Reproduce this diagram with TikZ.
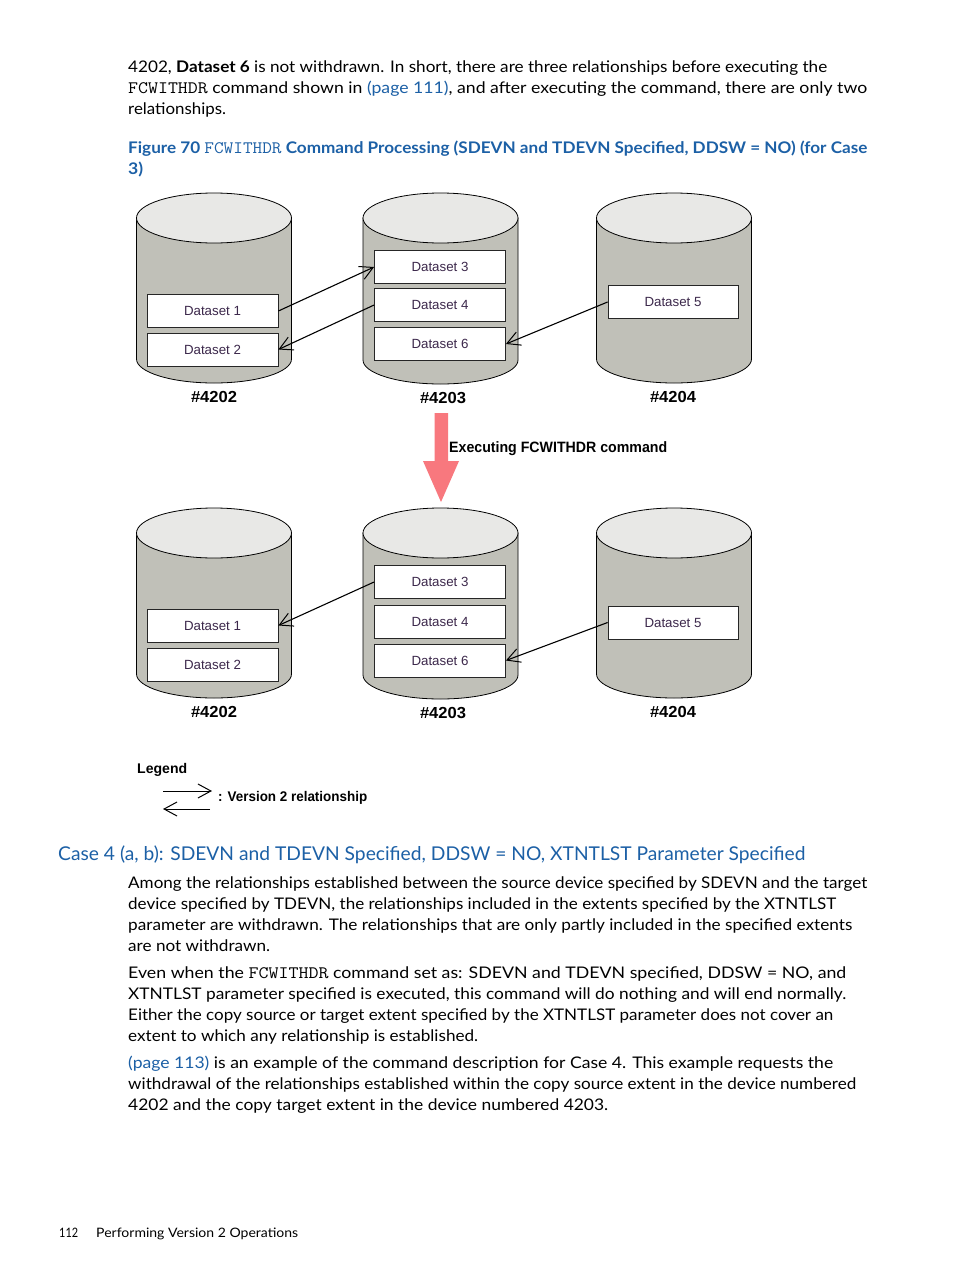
\documentclass[tikz,border=0pt]{standalone}
\usepackage{fontspec}
\usepackage{graphicx}
\setmainfont{Lato}
\newfontfamily\arialf{Liberation Sans}
\usetikzlibrary{arrows.meta}
\definecolor{hpblue}{RGB}{28,96,166}
\definecolor{dstext}{RGB}{60,40,75}
\definecolor{cylbodyc}{RGB}{192,192,184}
\definecolor{cyltopc}{RGB}{232,232,230}
\definecolor{redarrow}{RGB}{248,120,126}
\newcommand\monof{\ttfamily\mdseries}
\tikzset{
  bodytext/.style={anchor=base west,inner sep=0pt,font=\fontsize{16}{19}\selectfont},
  captext/.style={anchor=base west,inner sep=0pt,text=hpblue,font=\fontsize{16}{19}\selectfont\bfseries},
  headtext/.style={anchor=base west,inner sep=0pt,text=hpblue,font=\fontsize{19}{22}\selectfont},
  foottext/.style={anchor=base west,inner sep=0pt,font=\fontsize{13}{15}\selectfont},
  dsbox/.style={draw=black!85,line width=0.8pt,fill=white,minimum width=131pt,minimum height=33pt,inner sep=0pt,text=dstext,font=\arialf\fontsize{13.3}{15}\selectfont},
  devlabel/.style={inner sep=0pt,font=\arialf\bfseries\fontsize{16}{18}\selectfont},
  cylbody/.style={fill=cylbodyc,draw=black,line width=0.8pt},
  cyltop/.style={fill=cyltopc,draw=black,line width=0.8pt},
  rel/.style={line width=1.1pt,-{Straight Barb[length=13pt,width=14pt,line width=1pt]}},
}
\newcommand\mycyl[3]{%
  \filldraw[cylbody] (#1-77.5,#2+25) -- (#1-77.5,#3-24)
     arc[start angle=180,end angle=0,x radius=77.5,y radius=24] -- (#1+77.5,#2+25) -- cycle;
  \filldraw[cyltop] (#1,#2+25) ellipse[x radius=77.5,y radius=25];
}
\newcommand\fitw[2]{\resizebox{#1pt}{\height}{#2}}
\begin{document}
\begin{tikzpicture}[x=1pt,y=-1pt]
\useasboundingbox (0,0) rectangle (954,1271);
\fill[white] (0,0) rectangle (954,1271);

% ---- top paragraph ----
\node[bodytext] (t1) at (128,72.5) {\fitw{699}{4202, \textbf{Dataset 6} is not withdrawn. In short, there are three relationships before executing the}};
\node[bodytext] (t2) at (128,93.5) {\fitw{739}{{\monof\fontsize{17.5}{19}\selectfont FCWITHDR} command shown in {\color{hpblue}(page 111)}, and after executing the command, there are only two}};
\node[bodytext] (t3) at (128,114.5) {\fitw{98}{relationships.}};

% ---- caption ----
\node[captext] (c1) at (128,153.5) {\fitw{739}{Figure 70 {\monof\fontsize{17.5}{19}\selectfont FCWITHDR} Command Processing (SDEVN and TDEVN Specified, DDSW = NO) (for Case}};
\node[captext] (c2) at (128,174.5) {\fitw{15}{3)}};

% ---- top row cylinders ----
\mycyl{214}{193}{383}
\mycyl{440.5}{193}{384}
\mycyl{674}{193}{383}

\node[dsbox] (a1) at (212.5,311) {Dataset 1};
\node[dsbox] (a2) at (212.5,349.5) {Dataset 2};
\node[dsbox] (a3) at (440,267) {Dataset 3};
\node[dsbox] (a4) at (440,305) {Dataset 4};
\node[dsbox] (a6) at (440,344) {Dataset 6};
\node[dsbox,minimum width=130pt] (a5) at (673,302) {Dataset 5};

\draw[rel] (a1.east) -- (a3.west);
\draw[rel] (a4.west) -- (a2.east);
\draw[rel] (a5.west) -- (a6.east);

\node[devlabel] (l1) at (214,397) {\fitw{46}{\#4202}};
\node[devlabel] (l2) at (443,398) {\fitw{46}{\#4203}};
\node[devlabel] (l3) at (673,397) {\fitw{46}{\#4204}};

% ---- red arrow ----
\fill[redarrow] (434.5,413) -- (448,413) -- (448,461) -- (459,461) -- (441,502) -- (423,461) -- (434.5,461) -- cycle;
\node[anchor=west,inner sep=0pt,font=\arialf\bfseries\fontsize{15}{17}\selectfont] (ex) at (449,449) {\fitw{218}{Executing FCWITHDR command}};

% ---- bottom row cylinders ----
\mycyl{214}{508}{698}
\mycyl{440.5}{508}{699}
\mycyl{674}{508}{698}

\node[dsbox] (b1) at (212.5,625.5) {Dataset 1};
\node[dsbox] (b2) at (212.5,665) {Dataset 2};
\node[dsbox] (b3) at (440,582) {Dataset 3};
\node[dsbox] (b4) at (440,621.5) {Dataset 4};
\node[dsbox] (b6) at (440,660.5) {Dataset 6};
\node[dsbox,minimum width=130pt] (b5) at (673,622.5) {Dataset 5};

\draw[rel] (b3.west) -- (b1.east);
\draw[rel] (b5.west) -- (b6.east);

\node[devlabel] (m1) at (214,712) {\fitw{46}{\#4202}};
\node[devlabel] (m2) at (443,713) {\fitw{46}{\#4203}};
\node[devlabel] (m3) at (673,712) {\fitw{46}{\#4204}};

% ---- legend ----
\node[anchor=west,inner sep=0pt,font=\arialf\bfseries\fontsize{14}{16}\selectfont] (lg) at (137,770) {\fitw{50}{Legend}};
\coordinate (la) at (163,791);
\coordinate (lb) at (212,791);
\coordinate (lc) at (210,809);
\coordinate (ld) at (163,809);
\draw[rel,line width=1pt] (la) -- (lb);
\draw[rel,line width=1pt] (lc) -- (ld);
\node[anchor=west,inner sep=0pt,font=\arialf\bfseries\fontsize{14}{16}\selectfont] (lv) at (218,798) {\fitw{149}{: Version 2 relationship}};

% ---- heading ----
\node[headtext] (h) at (58,860) {\fitw{747}{Case 4 (a, b): SDEVN and TDEVN Specified, DDSW = NO, XTNTLST Parameter Specified}};

% ---- paragraphs ----
\node[bodytext] (p1) at (128,888) {\fitw{739}{Among the relationships established between the source device specified by SDEVN and the target}};
\node[bodytext] (p2) at (128,909) {\fitw{708}{device specified by TDEVN, the relationships included in the extents specified by the XTNTLST}};
\node[bodytext] (p3) at (128,930) {\fitw{724}{parameter are withdrawn. The relationships that are only partly included in the specified extents}};
\node[bodytext] (p4) at (128,951) {\fitw{142}{are not withdrawn.}};

\node[bodytext] (q1) at (128,978) {\fitw{718}{Even when the {\monof\fontsize{17.5}{19}\selectfont FCWITHDR} command set as: SDEVN and TDEVN specified, DDSW = NO, and}};
\node[bodytext] (q2) at (128,999) {\fitw{718}{XTNTLST parameter specified is executed, this command will do nothing and will end normally.}};
\node[bodytext] (q3) at (128,1020) {\fitw{705}{Either the copy source or target extent specified by the XTNTLST parameter does not cover an}};
\node[bodytext] (q4) at (128,1041) {\fitw{350}{extent to which any relationship is established.}};

\node[bodytext] (r1) at (128,1068) {\fitw{705}{{\color{hpblue}(page 113)} is an example of the command description for Case 4. This example requests the}};
\node[bodytext] (r2) at (128,1089) {\fitw{728}{withdrawal of the relationships established within the copy source extent in the device numbered}};
\node[bodytext] (r3) at (128,1110) {\fitw{480}{4202 and the copy target extent in the device numbered 4203.}};

% ---- footer ----
\node[foottext] (f1) at (59,1237) {\fitw{19}{112}};
\node[foottext] (f2) at (96,1237) {\fitw{202}{Performing Version 2 Operations}};
\end{tikzpicture}
\end{document}
